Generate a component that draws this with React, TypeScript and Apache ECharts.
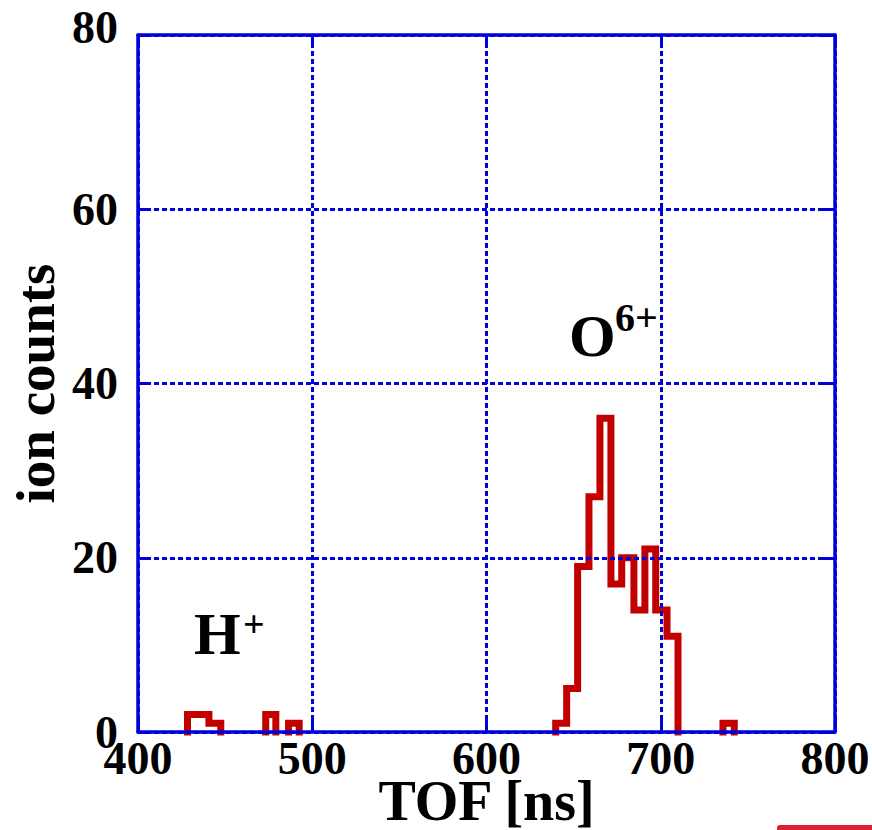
import React, { useEffect, useRef } from "react";
import * as echarts from "echarts";

// Histogram bin edges (TOF, ns) and counts per bin
const binEdges = [
  428.4, 434.6, 440.7, 447.5, 473.3, 479.1, 486.4, 492.5, 639.7, 646.0, 652.3,
  658.8, 665.1, 671.4, 677.6, 684.6, 690.9, 697.1, 703.6, 709.9, 735.7, 742.2,
];
const binCounts = [
  2, 2, 1, 0, 2, 0, 1, 0, 1, 5, 19, 27, 36, 17, 20, 14, 21, 14, 11, 0, 1,
];

const xTicks = { min: 400, max: 800, interval: 100 };
const yTicks = { min: 0, max: 80, interval: 20 };

const xAxisTitle = "TOF [ns]";
const yAxisTitle = "ion counts";
const peakLabels = [
  { main: "H", sup: "+" },
  { main: "O", sup: "6+" },
];

const BLUE = "#0000dd";
const RED = "#c20000";
const FONT = "'Liberation Serif', 'Times New Roman', Times, serif";

function buildRuns(): number[][][] {
  const runs: number[][][] = [];
  let cur: number[][] | null = null;
  for (let i = 0; i < binCounts.length; i++) {
    const c = binCounts[i];
    const lo = binEdges[i];
    const hi = binEdges[i + 1];
    if (c > 0) {
      if (!cur) {
        cur = [[lo, 0]];
      }
      cur.push([lo, c], [hi, c]);
    } else if (cur) {
      cur.push([lo, 0]);
      runs.push(cur);
      cur = null;
    }
  }
  if (cur) {
    cur.push([binEdges[binEdges.length - 1], 0]);
    runs.push(cur);
  }
  return runs;
}

export default function App() {
  const ref = useRef<HTMLDivElement>(null);
  useEffect(() => {
    if (!ref.current) return;
    const chart = echarts.init(ref.current, undefined, { renderer: "svg" });
    const runs = buildRuns();
    const axisLine = { show: true, onZero: false, lineStyle: { color: BLUE, width: 3.5 } };
    const axisTick = { show: true, inside: true, length: 12, lineStyle: { color: BLUE, width: 3 } };
    const splitLine = { show: true, lineStyle: { color: BLUE, width: 3, type: [5, 3] } };
    const labelStyle = { color: "#000", fontFamily: FONT, fontWeight: "bold" as const, fontSize: 46 };

    chart.setOption({
      animation: false,
      backgroundColor: "#fff",
      grid: {
        left: 138,
        top: 35,
        width: 697,
        height: 697,
        containLabel: false,
        outerBoundsMode: "none",
      },
      xAxis: [
        {
          type: "value",
          position: "bottom",
          ...xTicks,
          z: 5,
          axisLine,
          axisTick,
          splitLine,
          axisLabel: { ...labelStyle, margin: 3 },
          name: xAxisTitle,
          nameLocation: "middle",
          nameGap: 41,
          nameMoveOverlap: false,
          nameTextStyle: { ...labelStyle, fontSize: 56 },
        },
        {
          type: "value",
          position: "top",
          ...xTicks,
          z: 5,
          axisLine,
          axisTick,
          splitLine: { show: false },
          axisLabel: { show: false },
        },
      ],
      yAxis: [
        {
          type: "value",
          position: "left",
          ...yTicks,
          z: 5,
          axisLine,
          axisTick,
          splitLine,
          axisLabel: {
            ...labelStyle,
            margin: 20,
            formatter: (v: number) => (v === yTicks.max ? "{top|" + v + "}" : String(v)),
            rich: { top: { ...labelStyle, padding: [0, 0, 16, 0] } },
          },
          name: yAxisTitle,
          nameLocation: "middle",
          nameGap: 75,
          nameMoveOverlap: false,
          nameTextStyle: { ...labelStyle, fontSize: 55 },
        },
        {
          type: "value",
          position: "right",
          ...yTicks,
          z: 5,
          axisLine,
          axisTick,
          splitLine: { show: false },
          axisLabel: { show: false },
        },
      ],
      series: runs.map((run) => ({
        type: "line",
        data: run,
        showSymbol: false,
        symbol: "none",
        clip: false,
        z: 2,
        lineStyle: { color: RED, width: 7, cap: "square", join: "miter" },
      })),
      graphic: [
        {
          type: "text",
          x: 194,
          y: 634,
          z: 1,
          style: { text: peakLabels[0].main, font: `bold 60px ${FONT}`, fill: "#000", verticalAlign: "middle", align: "left" },
        },
        {
          type: "text",
          x: 243,
          y: 624,
          z: 1,
          style: { text: peakLabels[0].sup, font: `bold 38px ${FONT}`, fill: "#000", verticalAlign: "middle", align: "left" },
        },
        {
          type: "text",
          x: 569,
          y: 336,
          z: 1,
          style: { text: peakLabels[1].main, font: `bold 60px ${FONT}`, fill: "#000", verticalAlign: "middle", align: "left" },
        },
        {
          type: "text",
          x: 615,
          y: 317,
          z: 1,
          style: { text: peakLabels[1].sup, font: `bold 40px ${FONT}`, fill: "#000", verticalAlign: "middle", align: "left" },
        },
        {
          type: "rect",
          shape: { x: 777, y: 825, width: 110, height: 12, r: 3 },
          style: { fill: "#dd2030" },
        },
      ],
    });
    return () => chart.dispose();
  }, []);
  return (
    <div
      ref={ref}
      style={{ position: "absolute", left: 0, top: 0, width: 872, height: 830 }}
    />
  );
}
